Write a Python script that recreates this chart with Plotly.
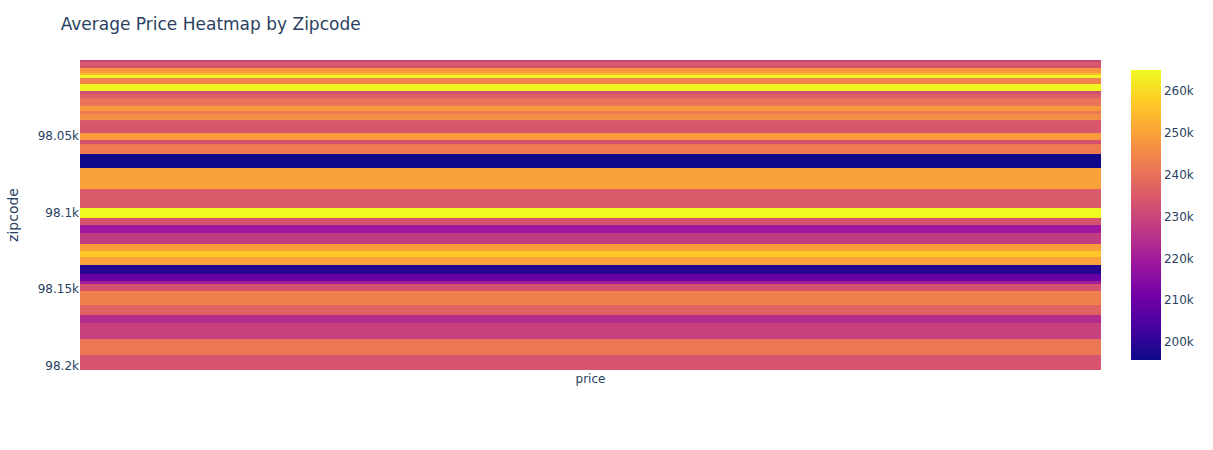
import plotly.graph_objects as go

zipcodes = [98001, 98002, 98003, 98004, 98005, 98006, 98007, 98008, 98010, 98011,
            98014, 98019, 98022, 98023, 98024, 98027, 98028, 98029, 98030, 98031,
            98032, 98033, 98034, 98038, 98039, 98040, 98042, 98045, 98052, 98053,
            98055, 98056, 98058, 98059, 98065, 98070, 98072, 98074, 98075, 98077,
            98092, 98102, 98103, 98105, 98106, 98107, 98108, 98109, 98112, 98115,
            98116, 98117, 98118, 98119, 98122, 98125, 98126, 98133, 98136, 98144,
            98146, 98148, 98155, 98166, 98168, 98177, 98178, 98188, 98198]

avg_price = [230000, 234000, 235000, 234000, 233000, 249000, 248000, 249000, 255000, 264000,
             244000, 264500, 232000, 236000, 236000, 240000, 241000, 240000, 241000, 248000,
             249000, 248000, 242000, 246000, 246500, 235000, 234000, 234000, 249000, 233000,
             233000, 242000, 243000, 242000, 196000, 195700, 250000, 250000, 250000, 250000,
             235000, 265000, 264500, 233000, 234000, 233000, 234000, 219000, 219000, 227500,
             228000, 227000, 228000, 227500, 249000, 249500, 257000, 250000, 199000, 209500,
             220000, 233000, 243500, 237000, 224000, 229000, 229000, 241500, 233500]

columns = ["price"]

fig = go.Figure(
    go.Heatmap(
        z=[[v] for v in avg_price],
        x=columns,
        y=zipcodes,
        colorscale="Plasma",
        colorbar=dict(outlinewidth=0, ticks=""),
    )
)

fig.update_layout(
    template="plotly",
    width=1213,
    height=450,
    font=dict(family="DejaVu Sans, Verdana, sans-serif"),
    title=dict(text="Average Price Heatmap by Zipcode"),
    margin=dict(t=60, l=80, r=80, b=80),
    yaxis=dict(title=dict(text="zipcode"), autorange="reversed"),
    plot_bgcolor="white",
)

fig.write_html(
    "out.html",
    config={"displayModeBar": False},
    post_script="document.body.style.margin='0';",
)
